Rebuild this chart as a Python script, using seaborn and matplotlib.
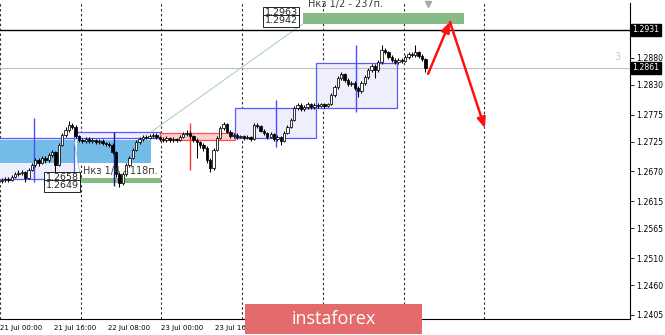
import numpy as np
import pandas as pd
import matplotlib
matplotlib.use("Agg")
import matplotlib.pyplot as plt
import matplotlib.transforms as mtransforms
from matplotlib.patches import Rectangle
import seaborn as sns

# ---------------- data ----------------
first_open = 1.2652
closes = [1.2654,1.2656,1.2654,1.2660,1.2665,1.2667,1.2669,1.2658,1.2673,1.2682,
          1.2691,1.2686,1.2695,1.2691,1.2700,1.2706,1.2682,1.2719,1.2737,1.2746,
          1.2756,1.2752,1.2735,1.2728,1.2726,1.2730,1.2726,1.2728,1.2724,1.2726,
          1.2722,1.2721,1.2719,1.2706,1.2665,1.2649,1.2665,1.2682,1.2695,1.2710,
          1.2724,1.2730,1.2734,1.2732,1.2735,1.2737,1.2734,1.2730,1.2728,1.2732,
          1.2728,1.2730,1.2728,1.2734,1.2739,1.2741,1.2735,1.2728,1.2724,1.2719,
          1.2713,1.2691,1.2676,1.2710,1.2732,1.2750,1.2758,1.2743,1.2735,1.2737,
          1.2734,1.2735,1.2732,1.2734,1.2730,1.2756,1.2754,1.2745,1.2741,1.2734,
          1.2739,1.2730,1.2734,1.2726,1.2741,1.2752,1.2765,1.2787,1.2793,1.2785,
          1.2789,1.2794,1.2789,1.2793,1.2791,1.2794,1.2791,1.2794,1.2811,1.2826,
          1.2842,1.2850,1.2839,1.2831,1.2833,1.2824,1.2818,1.2833,1.2844,1.2857,
          1.2865,1.2857,1.2872,1.2894,1.2890,1.2881,1.2876,1.2872,1.2876,1.2874,
          1.2881,1.2887,1.2885,1.2890,1.2883,1.2878,1.2861]
highs = [1.2657,1.2659,1.2660,1.2663,1.2668,1.2672,1.2673,1.2671,1.2676,1.2686,
         1.2695,1.2694,1.2699,1.2698,1.2704,1.2710,1.2708,1.2722,1.2741,1.2752,
         1.2763,1.2760,1.2755,1.2738,1.2732,1.2734,1.2733,1.2731,1.2730,1.2729,
         1.2729,1.2725,1.2724,1.2722,1.2708,1.2669,1.2668,1.2685,1.2699,1.2714,
         1.2728,1.2734,1.2738,1.2737,1.2739,1.2741,1.2740,1.2736,1.2733,1.2735,
         1.2734,1.2733,1.2732,1.2737,1.2742,1.2746,1.2744,1.2737,1.2731,1.2727,
         1.2722,1.2716,1.2694,1.2713,1.2736,1.2754,1.2762,1.2760,1.2746,1.2741,
         1.2740,1.2738,1.2737,1.2737,1.2736,1.2760,1.2759,1.2756,1.2748,1.2743,
         1.2742,1.2741,1.2737,1.2736,1.2744,1.2755,1.2769,1.2791,1.2797,1.2796,
         1.2793,1.2798,1.2797,1.2796,1.2796,1.2797,1.2796,1.2797,1.2815,1.2830,
         1.2846,1.2854,1.2852,1.2842,1.2837,1.2836,1.2828,1.2836,1.2847,1.2861,
         1.2869,1.2868,1.2876,1.2903,1.2898,1.2893,1.2884,1.2879,1.2880,1.2879,
         1.2885,1.2891,1.2890,1.2903,1.2893,1.2886,1.2880]
lows = [1.2649,1.2651,1.2650,1.2652,1.2657,1.2662,1.2663,1.2651,1.2656,1.2670,
        1.2678,1.2680,1.2683,1.2686,1.2688,1.2697,1.2663,1.2680,1.2716,1.2733,
        1.2743,1.2748,1.2731,1.2724,1.2722,1.2723,1.2722,1.2723,1.2720,1.2721,
        1.2718,1.2717,1.2715,1.2702,1.2660,1.2641,1.2645,1.2662,1.2679,1.2692,
        1.2707,1.2720,1.2727,1.2729,1.2729,1.2732,1.2730,1.2727,1.2724,1.2725,
        1.2725,1.2725,1.2724,1.2726,1.2731,1.2736,1.2732,1.2724,1.2695,1.2714,
        1.2708,1.2686,1.2669,1.2673,1.2707,1.2729,1.2747,1.2740,1.2731,1.2732,
        1.2730,1.2731,1.2728,1.2729,1.2726,1.2728,1.2750,1.2742,1.2737,1.2730,
        1.2731,1.2726,1.2727,1.2719,1.2724,1.2739,1.2750,1.2763,1.2784,1.2781,
        1.2782,1.2786,1.2785,1.2786,1.2787,1.2788,1.2787,1.2788,1.2792,1.2808,
        1.2823,1.2838,1.2835,1.2827,1.2828,1.2820,1.2807,1.2815,1.2830,1.2841,
        1.2853,1.2842,1.2854,1.2869,1.2886,1.2877,1.2872,1.2868,1.2869,1.2870,
        1.2871,1.2878,1.2882,1.2882,1.2879,1.2874,1.2854]

day_separators = [0, 24, 48, 72, 96, 120, 144]
x_tick_hours = [0, 16, 32, 48, 64]
x_tick_labels = ["21 Jul 00:00", "21 Jul 16:00", "22 Jul 08:00", "23 Jul 00:00", "23 Jul 16:00"]
y_ticks = [1.2880, 1.2830, 1.2775, 1.2725, 1.2670, 1.2615, 1.2565, 1.2510, 1.2460, 1.2405]
level_black = 1.2931
level_current = 1.2861

# daily range boxes: start hour, end hour, low, high, kind
range_boxes = [(-2, 22, 1.2656, 1.2732, "blue"),
               (22, 47.6, 1.2732, 1.2743, "blue"),
               (47.6, 70, 1.2728, 1.2741, "red"),
               (70, 94, 1.2732, 1.2787, "blue"),
               (94, 118, 1.2787, 1.2870, "blue")]
# range mid lines: hour, low, high, colour
range_lines = [(10, 1.2650, 1.2768, "#4b4bff"),
               (34, 1.2643, 1.2743, "#10109a"),
               (56.5, 1.2673, 1.2759, "#ff3030"),
               (82, 1.2715, 1.2802, "#4b4bff"),
               (106, 1.2780, 1.2903, "#4b4bff")]
zones = [(0, 22, 1.2686, 1.2728), (22.9, 44.9, 1.2686, 1.2728)]
targets = [(24, 48, 1.2649, 1.2658, "Нкз 1/4 - 118п."),
           (90, 138, 1.2942, 1.2963, "Нкз 1/2 - 237п.")]
trendlines = [(45, 1.2743, 90, 1.2942), (22, 1.2728, 24, 1.2658)]
forecast_path = [(127.3, 1.2850), (133.8, 1.2946), (144.2, 1.2750)]

# ---------------- figure ----------------
sns.set_style("white")
plt.rcParams["font.family"] = ["DejaVu Sans"]

fig = plt.figure(figsize=(6.65, 3.35), dpi=100)
ax = fig.add_axes([0.0, 16 / 335, 630 / 665, 316 / 335])
ax.set_facecolor("white")
ax.set_xlim(0, 187.36)
ax.set_ylim(1.23976, 1.29808)

# zones (light blue)
for x0, x1, lo, hi in zones:
    ax.add_patch(Rectangle((x0, lo), x1 - x0, hi - lo, fc="#74bce8", ec="none", zorder=1.2))

# range boxes
for x0, x1, lo, hi, kind in range_boxes:
    if kind == "red":
        fc, ec = "#ffd0d0", "#ff5050"
    else:
        fc, ec = "#eeeefd", "#5a5aff"
    ax.add_patch(Rectangle((x0, lo), x1 - x0, hi - lo, fc=fc, ec="none", zorder=1))
    ax.add_patch(Rectangle((x0, lo), x1 - x0, hi - lo, fc="none", ec=ec, lw=0.9, zorder=1.5))
for xh, lo, hi, col in range_lines:
    ax.vlines(xh, lo, hi, colors=col, lw=1.0, zorder=1.6)

# green targets
for x0, x1, lo, hi, lab in targets:
    ax.add_patch(Rectangle((x0, lo), x1 - x0, hi - lo, fc="#86bb86", ec="none", zorder=1.3))

# day separators
for d in day_separators:
    ax.axvline(d, color="#303030", lw=0.8, ls=(0, (2.2, 2.2)), zorder=0.8)

# horizontal levels
ax.axhline(level_current, color="#c0c0c0", lw=0.8, zorder=1.1)
ax.axhline(level_black, color="black", lw=1.0, zorder=2)

# trendlines
for x0, y0, x1, y1 in trendlines:
    ax.plot([x0, x1], [y0, y1], color="#98cc98", lw=0.6, zorder=1.7)

# candles
df = pd.DataFrame({"close": closes, "high": highs, "low": lows})
df["open"] = [first_open] + closes[:-1]
df["x"] = np.arange(len(df)) + 0.5
ax.vlines(df["x"], df["low"], df["high"], colors="black", lw=0.75, zorder=3)
bull = df[df["close"] >= df["open"]]
bear = df[df["close"] < df["open"]]
ax.bar(bull["x"], (bull["close"] - bull["open"]).clip(lower=0.00005), bottom=bull["open"],
       width=0.7, color="white", edgecolor="black", lw=0.55, zorder=4)
ax.bar(bear["x"], (bear["open"] - bear["close"]), bottom=bear["close"],
       width=0.7, color="black", edgecolor="black", lw=0.55, zorder=4)

# target texts and price labels
lbl_box = dict(boxstyle="square,pad=0.15", fc="white", ec="black", lw=0.6)
t0 = targets[0]
ax.text(t0[0] + 0.7, 1.26708, t0[4], fontsize=7, color="#3a3a3a", va="center", ha="left", zorder=5)
ax.annotate(f"{t0[3]:.4f}", xy=(t0[0], t0[3]), xytext=(-2, 0), textcoords="offset pixels",
            ha="right", va="center", fontsize=6.8, bbox=lbl_box, zorder=6)
ax.annotate(f"{t0[2]:.4f}", xy=(t0[0], t0[3]), xytext=(-2, -8), textcoords="offset pixels",
            ha="right", va="center", fontsize=6.8, bbox=lbl_box, zorder=6)
t1 = targets[1]
ax.annotate(t1[4], xy=(t1[0], t1[3]), xytext=(5, 9), textcoords="offset pixels",
            fontsize=7, color="#3a3a3a", va="center", ha="left", zorder=5, annotation_clip=False)
ax.annotate(f"{t1[3]:.4f}", xy=(t1[0], t1[3]), xytext=(-5, 0), textcoords="offset pixels",
            ha="right", va="center", fontsize=6.8, bbox=lbl_box, zorder=6)
ax.annotate(f"{t1[2]:.4f}", xy=(t1[0], t1[3]), xytext=(-5, -8), textcoords="offset pixels",
            ha="right", va="center", fontsize=6.8, bbox=lbl_box, zorder=6)

# forecast arrows
for (xa, ya), (xb, yb) in zip(forecast_path[:-1], forecast_path[1:]):
    ax.annotate("", xy=(xb, yb), xytext=(xa, ya),
                arrowprops=dict(arrowstyle="-|>,head_length=0.6,head_width=0.25",
                                color="#ff1010", lw=1.8, shrinkA=0, shrinkB=0), zorder=7)

# chart shift marker and misc
ax.plot([127.2], [1.29785], marker="v", ms=4.5, color="#a8a8a8", zorder=6, clip_on=False)
ax.text(183.6, 1.2881, "3", fontsize=7, color="#c8c8c8", ha="center", va="center")

# axes styling
for s in ["top", "left"]:
    ax.spines[s].set_visible(False)
for s in ["right", "bottom"]:
    ax.spines[s].set_color("black")
    ax.spines[s].set_linewidth(0.8)
ax.yaxis.tick_right()
ax.set_yticks(y_ticks)
ax.set_yticklabels([f"{v:.4f}" for v in y_ticks])
ax.tick_params(axis="y", labelsize=5.6, length=3, width=0.6, pad=1.5, colors="black")
ax.set_xticks(x_tick_hours)
ax.set_xticklabels(x_tick_labels, ha="left")
ax.tick_params(axis="x", labelsize=5.0, length=3, width=0.6, pad=1.5, colors="black")
ax.grid(False)

blend = mtransforms.blended_transform_factory(ax.transAxes, ax.transData)
for lvl in [level_black, level_current]:
    ax.text(1.0 + 2.5 / 630, lvl, f"{lvl:.4f}", transform=blend, ha="left", va="center",
            fontsize=5.6, color="white", zorder=8,
            bbox=dict(boxstyle="square,pad=0.2", fc="black", ec="black"))

# logo
fig.add_artist(Rectangle((245 / 665, 1 / 335), 177 / 665, 30 / 335, transform=fig.transFigure,
                         fc="#e36b6b", ec="none", zorder=10))
fig.text(333.5 / 665, 16.5 / 335, "instaforex", color="white", fontsize=13,
         family=["Open Sans", "DejaVu Sans"], ha="center", va="center", zorder=11)

fig.savefig("out.png", dpi=100)
